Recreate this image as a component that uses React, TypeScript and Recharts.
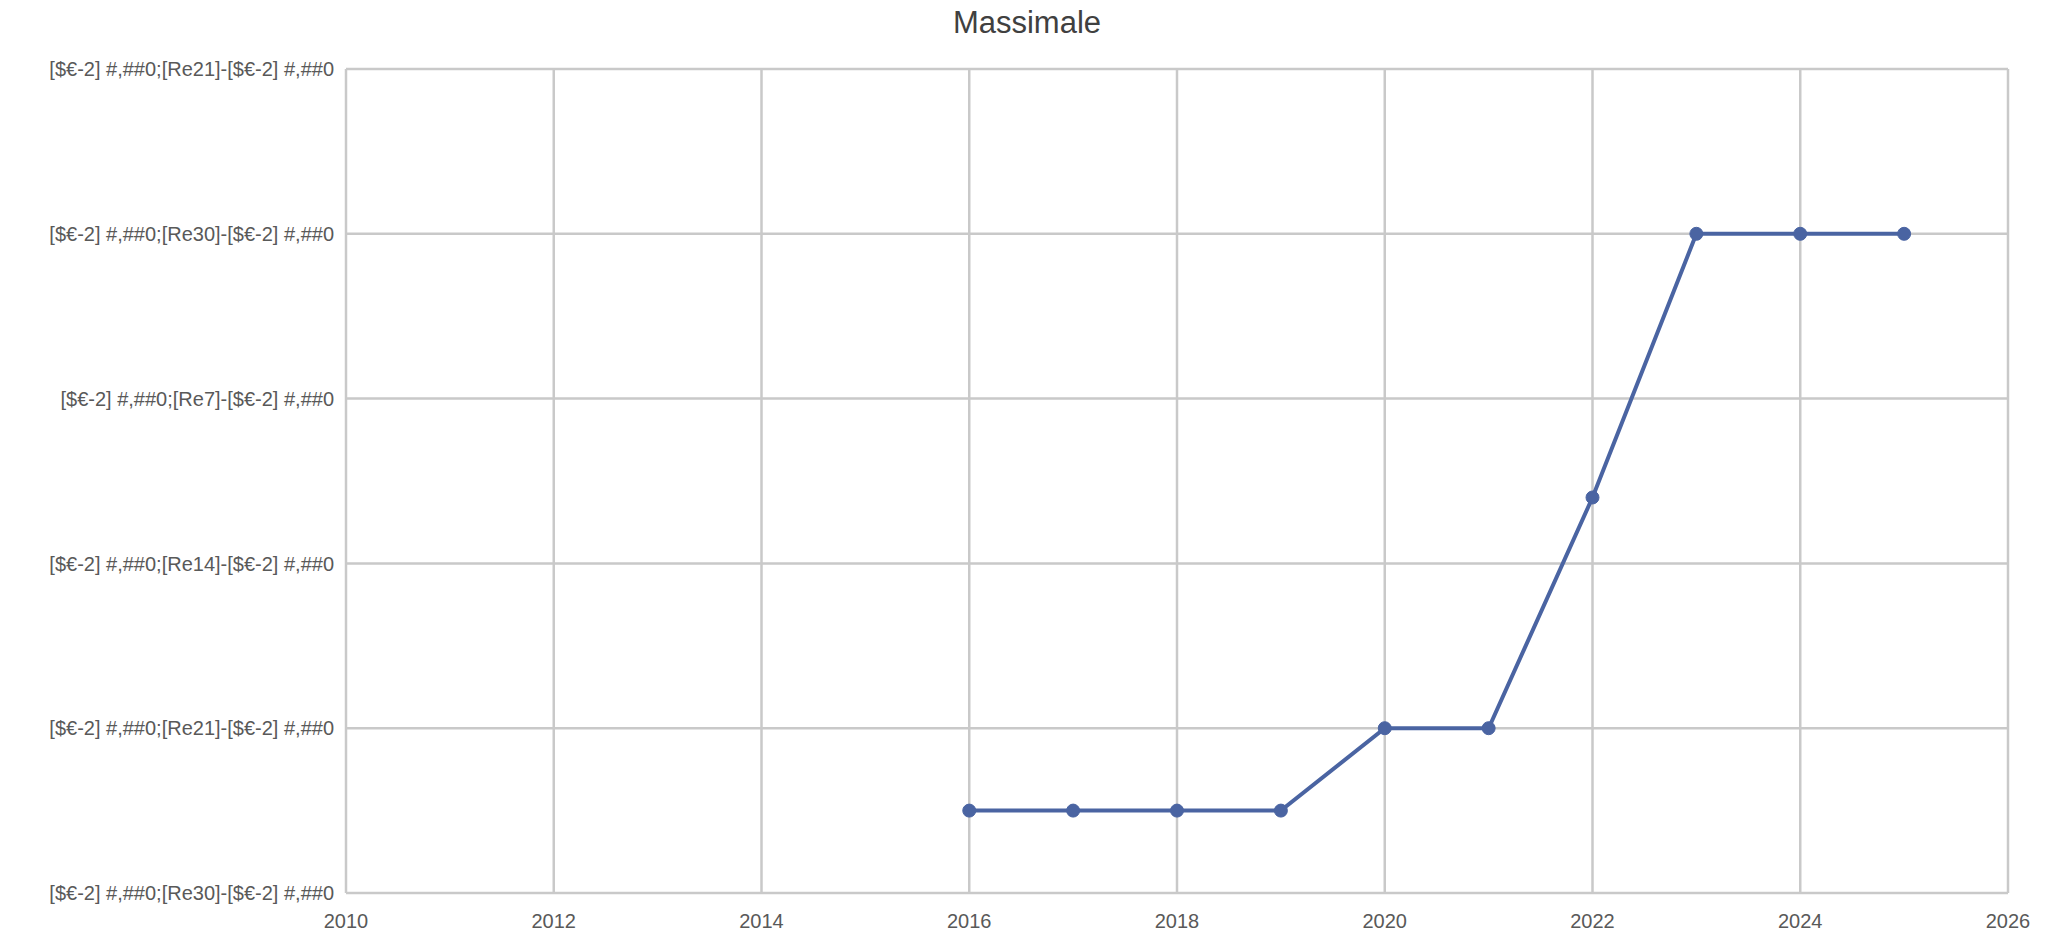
import { LineChart, Line, XAxis, YAxis, CartesianGrid } from 'recharts';

const years = [2016, 2017, 2018, 2019, 2020, 2021, 2022, 2023, 2024, 2025];
const massimale = [0.5, 0.5, 0.5, 0.5, 1, 1, 2.4, 4, 4, 4];

const xTicks = [2010, 2012, 2014, 2016, 2018, 2020, 2022, 2024, 2026];
const yTicks = [0, 1, 2, 3, 4, 5];
const yLabels = [
  '[$€-2] #,##0;[Re30]-[$€-2] #,##0',
  '[$€-2] #,##0;[Re21]-[$€-2] #,##0',
  '[$€-2] #,##0;[Re14]-[$€-2] #,##0',
  '[$€-2] #,##0;[Re7]-[$€-2] #,##0',
  '[$€-2] #,##0;[Re30]-[$€-2] #,##0',
  '[$€-2] #,##0;[Re21]-[$€-2] #,##0',
];

const chartData = years.map((year, i) => ({ year, value: massimale[i] }));

const LINE_COLOR = '#4a64a2';
const GRID_COLOR = '#c9c9c9';
const TEXT_COLOR = '#595959';

export default function App() {
  return (
    <div style={{ position: 'absolute', left: 0, top: 0, width: 2049, height: 940, background: '#fff', fontFamily: 'Liberation Sans, Arial, sans-serif' }}>
      <div
        style={{
          position: 'absolute',
          left: 0,
          top: 4,
          width: 2054,
          textAlign: 'center',
          fontSize: 31,
          color: '#404040',
          lineHeight: '38px',
        }}
      >
        Massimale
      </div>
      <LineChart width={2049} height={940} data={chartData} margin={{ top: 69, right: 41, left: 0, bottom: 0 }}>
        <CartesianGrid stroke={GRID_COLOR} strokeWidth={2.5} />
        <XAxis
          dataKey="year"
          type="number"
          domain={[2010, 2026]}
          ticks={xTicks}
          axisLine={false}
          tickLine={false}
          tickMargin={15}
          height={47}
          tick={{ fill: TEXT_COLOR, fontSize: 20 }}
        />
        <YAxis
          type="number"
          domain={[0, 5]}
          ticks={yTicks}
          axisLine={false}
          tickLine={false}
          tickMargin={6}
          width={346}
          tick={{ fill: TEXT_COLOR, fontSize: 20 }}
          tickFormatter={(v: number) => yLabels[v]}
        />
        <Line
          type="linear"
          dataKey="value"
          stroke={LINE_COLOR}
          strokeWidth={4}
          dot={{ r: 6.5, fill: LINE_COLOR, stroke: LINE_COLOR, strokeWidth: 1 }}
          isAnimationActive={false}
        />
      </LineChart>
    </div>
  );
}
